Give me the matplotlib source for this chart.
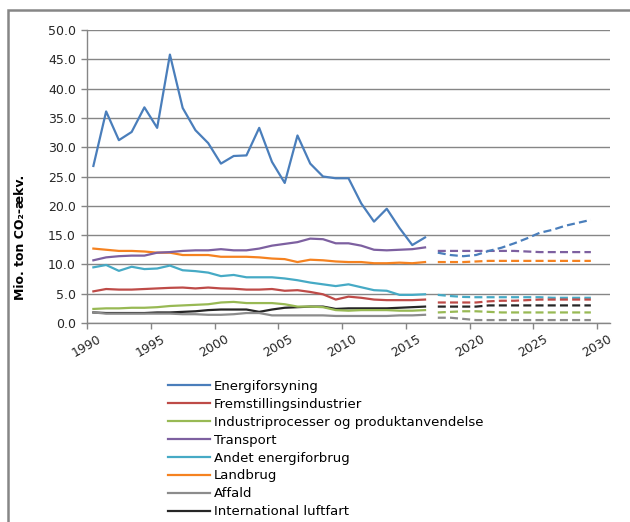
import numpy as np
import matplotlib
matplotlib.use("Agg")
import matplotlib.pyplot as plt
from matplotlib.patches import Rectangle

# historiske data 1990-2016
aar = list(range(1990, 2017))
energiforsyning = [26.8, 36.1, 31.2, 32.6, 36.8, 33.3, 45.8, 36.7, 32.9, 30.7, 27.2, 28.5, 28.6, 33.3,
                   27.5, 23.9, 32.0, 27.2, 25.0, 24.7, 24.7, 20.4, 17.3, 19.5, 16.2, 13.3, 14.6]
fremstilling = [5.4, 5.8, 5.7, 5.7, 5.8, 5.9, 6.0, 6.05, 5.9, 6.05, 5.9, 5.85, 5.7, 5.7,
                5.8, 5.5, 5.6, 5.3, 4.9, 4.0, 4.5, 4.3, 4.0, 3.9, 3.9, 3.9, 4.0]
industriproc = [2.4, 2.5, 2.5, 2.6, 2.6, 2.7, 2.9, 3.0, 3.1, 3.2, 3.5, 3.6, 3.4, 3.4,
                3.4, 3.2, 2.8, 2.8, 2.7, 2.2, 2.1, 2.2, 2.2, 2.2, 2.1, 2.1, 2.2]
transport = [10.7, 11.2, 11.4, 11.5, 11.5, 12.0, 12.1, 12.3, 12.4, 12.4, 12.6, 12.4, 12.4, 12.7,
             13.2, 13.5, 13.8, 14.4, 14.3, 13.6, 13.6, 13.2, 12.5, 12.4, 12.5, 12.6, 12.9]
andet = [9.5, 9.9, 8.9, 9.6, 9.2, 9.3, 9.8, 9.0, 8.85, 8.6, 8.0, 8.2, 7.8, 7.8,
         7.8, 7.6, 7.3, 6.9, 6.6, 6.3, 6.6, 6.1, 5.6, 5.5, 4.8, 4.8, 4.9]
landbrug = [12.7, 12.5, 12.3, 12.3, 12.2, 12.0, 12.0, 11.6, 11.6, 11.6, 11.3, 11.3, 11.3, 11.2,
            11.0, 10.9, 10.4, 10.8, 10.7, 10.5, 10.4, 10.4, 10.2, 10.2, 10.3, 10.2, 10.4]
affald = [1.8, 1.6, 1.6, 1.6, 1.6, 1.6, 1.6, 1.5, 1.5, 1.4, 1.4, 1.5, 1.7, 1.7,
          1.3, 1.3, 1.3, 1.3, 1.3, 1.2, 1.2, 1.2, 1.2, 1.2, 1.3, 1.3, 1.4]
luftfart = [1.8, 1.7, 1.7, 1.7, 1.7, 1.8, 1.8, 1.9, 2.0, 2.2, 2.3, 2.3, 2.3, 1.9,
            2.3, 2.6, 2.7, 2.8, 2.8, 2.4, 2.5, 2.5, 2.5, 2.5, 2.6, 2.7, 2.8]

# fremskrivning 2017-2029
aar_frem = list(range(2017, 2030))
energiforsyning_f = [12.0, 11.6, 11.4, 11.6, 12.3, 12.85, 13.6, 14.45, 15.4, 15.9, 16.6, 17.1, 17.6]
fremstilling_f = [3.5, 3.5, 3.5, 3.5, 3.7, 3.8, 3.8, 3.9, 4.0, 4.0, 4.0, 4.0, 4.0]
industriproc_f = [1.8, 1.9, 2.0, 2.0, 1.9, 1.8, 1.8, 1.8, 1.8, 1.8, 1.8, 1.8, 1.8]
transport_f = [12.3, 12.3, 12.3, 12.3, 12.3, 12.3, 12.3, 12.2, 12.1, 12.1, 12.1, 12.1, 12.1]
andet_f = [4.8, 4.6, 4.45, 4.4, 4.4, 4.4, 4.4, 4.4, 4.4, 4.3, 4.3, 4.3, 4.3]
landbrug_f = [10.4, 10.4, 10.4, 10.5, 10.6, 10.6, 10.6, 10.6, 10.6, 10.6, 10.6, 10.6, 10.6]
affald_f = [0.9, 0.9, 0.7, 0.5, 0.5, 0.5, 0.5, 0.5, 0.5, 0.5, 0.5, 0.5, 0.5]
luftfart_f = [2.8, 2.8, 2.8, 2.8, 3.0, 3.0, 3.0, 3.0, 3.0, 3.0, 3.0, 3.0, 3.0]

navne = ["Energiforsyning", "Fremstillingsindustrier", "Industriprocesser og produktanvendelse",
         "Transport", "Andet energiforbrug", "Landbrug", "Affald", "International luftfart"]
farver = ["#4A7EBB", "#BE4B48", "#98B954", "#7D60A0", "#46AAC5", "#F58220", "#8C8C8C", "#262626"]

hist = [energiforsyning, fremstilling, industriproc, transport, andet, landbrug, affald, luftfart]
frem = [energiforsyning_f, fremstilling_f, industriproc_f, transport_f, andet_f, landbrug_f,
        affald_f, luftfart_f]

tick_aar = list(range(1990, 2031, 5))
yticks = np.arange(0, 50.1, 5)

plt.rcParams['font.family'] = ['DejaVu Sans']
fig = plt.figure(figsize=(6.3, 5.22), dpi=100)
ax = fig.add_axes([87/630, 1-323/522, 523/630, 293/522])

# tegn fremskrivning foerst, saa historik ligger ovenpaa
for vals, c in zip(frem[::-1], farver[::-1]):
    ax.plot(aar_frem, vals, color=c, lw=1.6, linestyle=(0, (3.6, 1.9)))
linjer = []
for vals, c, n in zip(hist[::-1], farver[::-1], navne[::-1]):
    l, = ax.plot(aar, vals, color=c, lw=1.6, label=n)
    linjer.append(l)
linjer = linjer[::-1]

ax.set_xlim(1989.5, 2030.5)
ax.set_ylim(0, 50)
ax.set_yticks(yticks)
ax.set_yticklabels(["%.1f" % v for v in yticks], fontsize=9, color="#262626")
ax.set_xticks([a - 0.5 for a in tick_aar])
ax.set_xticklabels([str(a) for a in tick_aar], fontsize=9, color="#262626",
                   rotation=30, ha="center", va="top")
ax.tick_params(axis="both", length=4, color="#868686", width=1)
ax.tick_params(axis="x", pad=3)
ax.tick_params(axis="y", pad=4)
ax.grid(axis="y", color="#868686", lw=1)
ax.set_axisbelow(True)
for s in ["top", "right"]:
    ax.spines[s].set_visible(False)
for s in ["left", "bottom"]:
    ax.spines[s].set_color("#868686")
    ax.spines[s].set_linewidth(1)

ax.set_ylabel("Mio. ton CO₂-ækv.", fontsize=9, fontweight="bold")
ax.yaxis.set_label_coords((27-87)/523, (323-237)/293)

fig.legend(handles=linjer, labels=navne, loc="upper left",
           bbox_to_anchor=(168/630, 1-380/522), frameon=False, fontsize=9.5,
           handlelength=3.2, handletextpad=0.25, labelspacing=0.37, borderpad=0,
           borderaxespad=0)

# diagramramme (kun venstre og top synlig)
fig.add_artist(Rectangle((8/630, -0.1), 1.2, 1.1-10/522, transform=fig.transFigure,
                         fill=False, edgecolor="#868686", lw=1.8))

fig.savefig("out.png", dpi=100)
